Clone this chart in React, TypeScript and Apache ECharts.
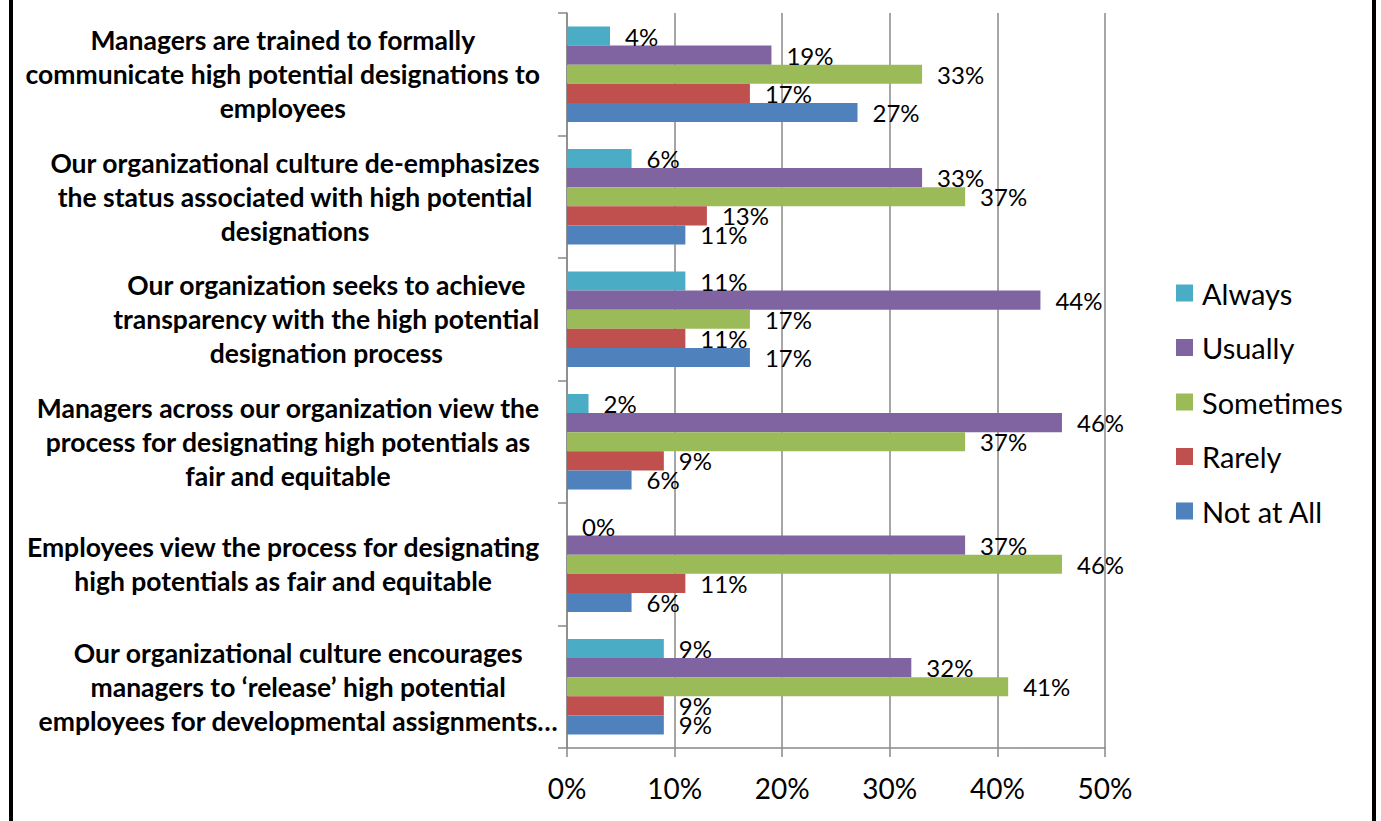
import React, { useEffect, useRef } from "react";
import * as echarts from "echarts";

const FONT = "Lato, 'Open Sans', sans-serif";

const categories = [
  "Managers are trained to formally\ncommunicate high potential designations to\nemployees",
  "Our organizational culture de-emphasizes\nthe status associated with high potential\ndesignations",
  "Our organization seeks to achieve\ntransparency with the high potential\ndesignation process",
  "Managers across our organization view the\nprocess for designating high potentials as\nfair and equitable",
  "Employees view the process for designating\nhigh potentials as fair and equitable",
  "Our organizational culture encourages\nmanagers to \u2018release\u2019 high potential\nemployees for developmental assignments\u2026",
];

const seriesNames = ["Always", "Usually", "Sometimes", "Rarely", "Not at All"];
const seriesColors = ["#4BACC6", "#8064A2", "#9BBB59", "#C0504D", "#4F81BD"];

const always = [4, 6, 11, 2, 0, 9];
const usually = [19, 33, 44, 46, 37, 32];
const sometimes = [33, 37, 17, 37, 46, 41];
const rarely = [17, 13, 11, 9, 11, 9];
const notAtAll = [27, 11, 17, 6, 6, 9];

const seriesValues = [always, usually, sometimes, rarely, notAtAll];

const xTicks = { min: 0, max: 50, interval: 10 };

export default function App() {
  const ref = useRef<HTMLDivElement>(null);
  useEffect(() => {
    if (!ref.current) return;
    const chart = echarts.init(ref.current, null, { renderer: "svg" });
    const W = 1381;
    const H = 821;
    const lastIdx = categories.length - 1;
    chart.setOption({
      animation: false,
      backgroundColor: "#ffffff",
      textStyle: { fontFamily: FONT },
      grid: {
        left: 567,
        right: W - 1105,
        top: 13,
        bottom: H - 748,
        containLabel: false,
        outerBoundsMode: "none",
      },
      legend: {
        orient: "vertical",
        left: 1171,
        top: 273,
        itemWidth: 17,
        itemHeight: 17,
        itemGap: 24.5,
        icon: "rect",
        data: seriesNames,
        textStyle: {
          fontFamily: FONT,
          fontSize: 29,
          color: "#000",
          lineHeight: 30,
          padding: [0, 0, 0, 4],
        },
      },
      xAxis: {
        type: "value",
        min: xTicks.min,
        max: xTicks.max,
        interval: xTicks.interval,
        axisLine: { show: true, lineStyle: { color: "#888888", width: 1.5 } },
        axisTick: { show: true, length: 9, lineStyle: { color: "#888888", width: 1.5 } },
        splitLine: { show: true, lineStyle: { color: "#888888", width: 1.5 } },
        axisLabel: {
          formatter: "{value}%",
          fontFamily: FONT,
          fontSize: 28,
          color: "#000",
          margin: 26,
        },
      },
      yAxis: {
        type: "category",
        inverse: true,
        data: categories.map((c, i) =>
          i === lastIdx
            ? { value: c, textStyle: { padding: [0, -18, 0, 0] } }
            : c
        ),
        axisLine: { show: true, lineStyle: { color: "#888888", width: 1.5 } },
        axisTick: { show: true, length: 9, lineStyle: { color: "#888888", width: 1.5 } },
        axisLabel: {
          margin: 27,
          formatter: (v: string) =>
            v
              .split("\n")
              .map((l) => `{c|${l}}`)
              .join("\n"),
          rich: {
            c: {
              align: "center",
              fontFamily: FONT,
              fontSize: 26.5,
              fontWeight: "bold",
              lineHeight: 34,
              color: "#000",
            },
          },
        },
      },
      series: seriesNames.map((name, i) => ({
        name,
        type: "bar",
        data: seriesValues[i],
        barGap: "0%",
        barCategoryGap: "22%",
        itemStyle: { color: seriesColors[i] },
        label: {
          show: true,
          position: "right",
          distance: 15,
          formatter: "{c}%",
          fontFamily: FONT,
          fontSize: 24,
          color: "#000",
        },
      })),
      graphic: [
        { type: "rect", shape: { x: 9, y: 0, width: 4, height: H }, style: { fill: "#000" } },
        { type: "rect", shape: { x: 1372, y: 0, width: 4, height: H }, style: { fill: "#000" } },
      ],
    });
    return () => chart.dispose();
  }, []);
  return (
    <div
      ref={ref}
      style={{ position: "fixed", left: 0, top: 0, width: 1381, height: 821 }}
    />
  );
}
